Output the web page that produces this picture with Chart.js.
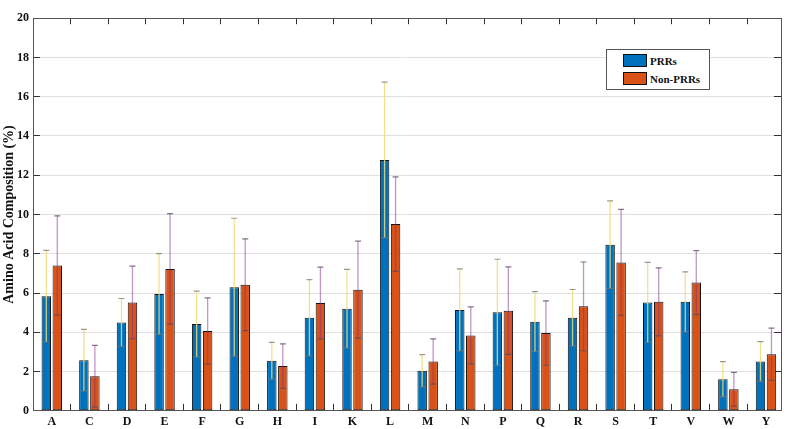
<!DOCTYPE html>
<html><head><meta charset="utf-8">
<script src="https://cdn.jsdelivr.net/npm/chart.js@4.4.0/dist/chart.umd.min.js"></script>
<style>
html,body{margin:0;padding:0;background:#fff;}
#wrap{position:relative;width:787px;height:429px;}
#legend{position:absolute;left:606px;top:49px;width:102px;height:39px;border:1px solid #555;background:#fff;font:bold 11px "Liberation Serif",serif;color:#111;}
.item{position:absolute;left:16px;display:flex;align-items:center;height:13px;}
.sw{width:22px;height:11px;border:1px solid #111;margin-right:3px;}
</style></head>
<body><div id="wrap"><canvas id="c" width="787" height="429"></canvas><div id="legend"></div></div>
<script>
const categories = ['A','C','D','E','F','G','H','I','K','L','M','N','P','Q','R','S','T','V','W','Y'];
const seriesNames = ['PRRs','Non-PRRs'];
const prrMean = [5.84,2.58,4.50,5.95,4.42,6.30,2.55,4.74,5.20,12.78,2.04,5.14,5.02,4.54,4.74,8.46,5.52,5.55,1.61,2.51];
const prrSD   = [2.33,1.57,1.22,2.06,1.68,3.51,0.94,1.94,2.00,3.96,0.82,2.09,2.70,1.53,1.44,2.23,2.04,1.53,0.90,1.01];
const nonMean = [7.40,1.76,5.52,7.23,4.07,6.42,2.28,5.49,6.17,9.51,2.51,3.84,5.10,3.96,5.32,7.56,5.55,6.53,1.10,2.88];
const nonSD   = [2.53,1.57,1.85,2.81,1.68,2.34,1.13,1.83,2.47,2.41,1.15,1.45,2.23,1.64,2.26,2.70,1.73,1.63,0.86,1.33];
const yTickStep = 2;
const yMin = 0, yMax = 20;

const barColors = ['#0072BD','#D95319'];
const errColors = ['rgba(240,220,120,0.85)','rgba(126,47,142,0.5)'];
const capColors = ['rgba(120,120,110,0.75)','rgba(90,70,95,0.75)'];
const CAT_PCT = 0.585, BAR_PCT = 0.86;
const FONT = 'Liberation Serif';

function barData(mean){ return mean.map((v,i)=>({x:i+1,y:v})); }
function errData(mean, sd, off){
  const d=[];
  mean.forEach((m,i)=>{ d.push({x:i+1+off,y:m-sd[i]},{x:i+1+off,y:m+sd[i]},{x:i+1+off,y:null}); });
  return d;
}
const off = CAT_PCT/4;
const catTicks = s => { s.ticks = categories.map((c,i)=>({value:i+1})); };

const datasets = [
  {type:'bar', label:seriesNames[0], data:barData(prrMean), backgroundColor:barColors[0], borderColor:'#111', borderWidth:1, borderSkipped:false, barPercentage:BAR_PCT, categoryPercentage:CAT_PCT, order:1},
  {type:'bar', label:seriesNames[1], data:barData(nonMean), backgroundColor:barColors[1], borderColor:'#111', borderWidth:1, borderSkipped:false, barPercentage:BAR_PCT, categoryPercentage:CAT_PCT, order:1},
  {type:'line', label:seriesNames[0]+' SD', data:errData(prrMean,prrSD,-off), borderColor:errColors[0], borderWidth:1.3, spanGaps:false, fill:false, pointStyle:'line', pointRadius:3, pointBorderColor:capColors[0], pointBorderWidth:1.2, pointBackgroundColor:capColors[0], order:0},
  {type:'line', label:seriesNames[1]+' SD', data:errData(nonMean,nonSD,off), borderColor:errColors[1], borderWidth:1.3, spanGaps:false, fill:false, pointStyle:'line', pointRadius:3, pointBorderColor:capColors[1], pointBorderWidth:1.2, pointBackgroundColor:capColors[1], order:0}
];

new Chart(document.getElementById('c'), {
  type:'bar',
  data:{datasets},
  options:{
    responsive:false, animation:false, devicePixelRatio:1,
    layout:{padding:0},
    plugins:{legend:{display:false}, tooltip:{enabled:false}},
    scales:{
      x:{type:'linear', position:'bottom', min:0.5, max:20.4, offset:false,
        afterBuildTicks:catTicks,
        ticks:{autoSkip:false, maxRotation:0, padding:11, color:'#111', font:{family:FONT, weight:'bold', size:12}, callback:(v,i)=>categories[i]},
        grid:{drawOnChartArea:false, drawTicks:true, tickLength:-7, tickColor:'#333'},
        border:{color:'#555', width:1},
        afterFit:s=>{s.height=18;}
      },
      x2:{type:'linear', position:'top', min:0.5, max:20.4, offset:false,
        afterBuildTicks:catTicks,
        ticks:{display:false},
        grid:{drawOnChartArea:false, drawTicks:true, tickLength:-6, tickColor:'#333'},
        border:{color:'#555', width:1},
        afterFit:s=>{s.height=10;}
      },
      y:{type:'linear', position:'left', min:yMin, max:yMax,
        ticks:{stepSize:yTickStep, padding:11, color:'#111', font:{family:FONT, weight:'bold', size:12}},
        grid:{color:'#e0e0e0', tickColor:'#333', tickLength:-7, drawTicks:true},
        border:{color:'#555', width:1},
        title:{display:true, text:'Amino Acid Composition (%)', color:'#111', font:{family:FONT, weight:'bold', size:14}, padding:{top:1,bottom:0}},
        afterFit:s=>{s.width=33;}
      },
      y2:{type:'linear', position:'right', min:yMin, max:yMax,
        ticks:{display:false, stepSize:yTickStep},
        grid:{drawOnChartArea:false, tickColor:'#333', tickLength:-7, drawTicks:true},
        border:{color:'#555', width:1},
        afterFit:s=>{s.width=6;}
      }
    }
  }
});

const lg = document.getElementById('legend');
seriesNames.forEach((n,i)=>{
  const it = document.createElement('div');
  it.className='item'; it.style.top = (4 + i*18) + 'px';
  const sw = document.createElement('div'); sw.className='sw'; sw.style.background = barColors[i];
  const tx = document.createElement('span'); tx.textContent = n;
  it.appendChild(sw); it.appendChild(tx); lg.appendChild(it);
});
</script>
</body></html>
